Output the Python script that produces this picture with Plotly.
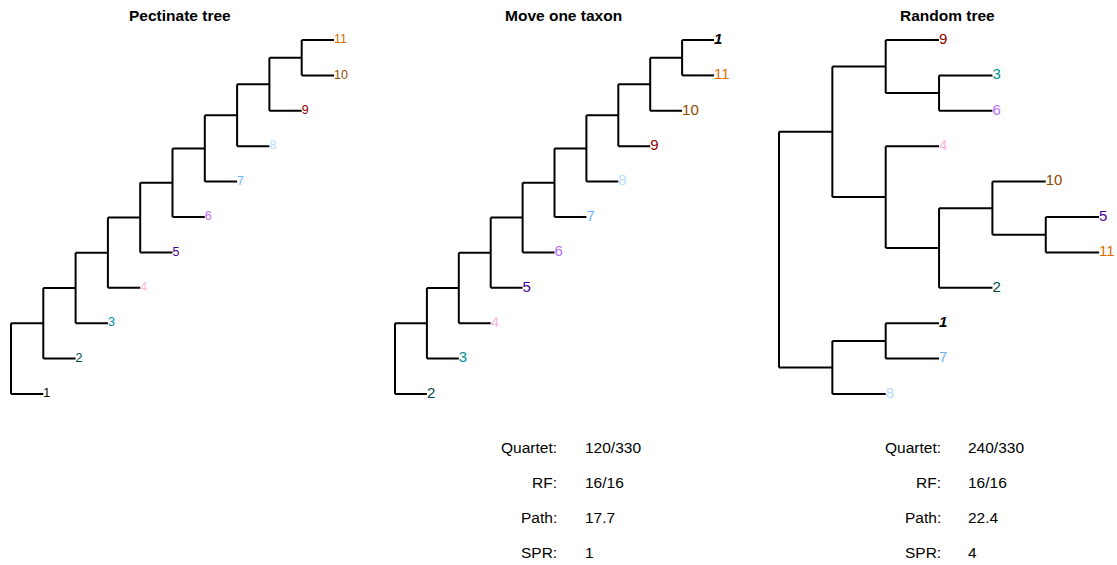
import plotly.graph_objects as go

W, H = 1117, 565
FONT = "Liberation Sans, Arial, sans-serif"

# ---- data -------------------------------------------------------------
titles = ["Pectinate tree", "Move one taxon", "Random tree"]

# trees as nested tuples; children listed bottom-to-top, unit branch lengths
tree_pectinate = (1, (2, (3, (4, (5, (6, (7, (8, (9, (10, 11))))))))))
tree_moved = (2, (3, (4, (5, (6, (7, (8, (9, (10, (11, 1))))))))))
tree_random = ((8, (7, 1)), (((2, ((11, 5), 10)), 4), ((6, 3), 9)))
trees = [tree_pectinate, tree_moved, tree_random]

tip_colors = {1: "#000000", 2: "#004949", 3: "#009292", 4: "#ffb6db",
              5: "#490092", 6: "#b66dff", 7: "#6db6ff", 8: "#b6dbff",
              9: "#920000", 10: "#924900", 11: "#db6d00"}
moved_taxon = 1

stat_names = ["Quartet:", "RF:", "Path:", "SPR:"]
moved_stats = ["120/330", "16/16", "17.7", "1"]
random_stats = ["240/330", "16/16", "22.4", "4"]

# ---- layout params (pixels) -----------------------------------------
panel_px = [(0, 372), (372, 745), (745, 1117)]
root_px = [11, 395, 779]
unit_px = [32.3, 31.9, 53.35]
label_size = [12.5, 15, 15]
title_cx = [180, 563, 948]
tip1_py, tip_step = 394, 35.4


def layout_tree(tree):
    xs, ys, tips = [], [], []
    counter = [0]

    def rec(node, depth):
        if isinstance(node, int):
            counter[0] += 1
            y = counter[0]
            tips.append((node, depth, y))
            return y
        cys = []
        for c in node:
            cy = rec(c, depth + 1)
            xs.extend([depth, depth + 1, None])
            ys.extend([cy, cy, None])
            cys.append(cy)
        xs.extend([depth, depth, None])
        ys.extend([min(cys), max(cys), None])
        return (min(cys) + max(cys)) / 2

    rec(tree, 0)
    return xs, ys, tips


fig = go.Figure()
y_lo = 1 - (H - tip1_py) / tip_step
y_hi = 1 + tip1_py / tip_step

for k, tree in enumerate(trees):
    xs, ys, tips = layout_tree(tree)
    ax = "" if k == 0 else str(k + 1)
    fig.add_trace(go.Scatter(x=xs, y=ys, mode="lines",
                             line=dict(color="black", width=2),
                             xaxis="x" + ax, yaxis="y" + ax,
                             hoverinfo="skip", showlegend=False))
    labels = []
    for t, d, y in tips:
        if k > 0 and t == moved_taxon:
            labels.append("<b><i>%d</i></b>" % t)
        else:
            labels.append(str(t))
    fig.add_trace(go.Scatter(x=[d for _, d, _ in tips], y=[y for _, _, y in tips],
                             mode="text", text=labels, textposition="middle right",
                             textfont=dict(color=[tip_colors[t] for t, _, _ in tips],
                                           size=label_size[k], family=FONT),
                             xaxis="x" + ax, yaxis="y" + ax,
                             hoverinfo="skip", showlegend=False, cliponaxis=False))
    p0, p1 = panel_px[k]
    xr = [(p0 - root_px[k]) / unit_px[k], (p1 - root_px[k]) / unit_px[k]]
    fig.layout["xaxis" + ax] = dict(domain=[p0 / W, p1 / W], range=xr, visible=False,
                                    anchor="y" + ax, fixedrange=True)
    fig.layout["yaxis" + ax] = dict(domain=[0, 1], range=[y_lo, y_hi], visible=False,
                                    anchor="x" + ax, fixedrange=True)

annotations = []
for k, t in enumerate(titles):
    annotations.append(dict(x=title_cx[k] / W, y=1 - 15 / H, xref="paper", yref="paper",
                            text="<b>%s</b>" % t, showarrow=False, xanchor="center",
                            yanchor="middle", font=dict(size=15.5, family=FONT, color="black")))

row_py = [447, 482, 517.5, 552.5]
for stats, lab_right, val_left in [(moved_stats, 559, 583), (random_stats, 943, 966)]:
    for name, val, py in zip(stat_names, stats, row_py):
        annotations.append(dict(x=lab_right / W, y=1 - py / H, xref="paper", yref="paper",
                                text=name, showarrow=False, xanchor="right", yanchor="middle",
                                font=dict(size=15.5, family=FONT, color="black")))
        annotations.append(dict(x=val_left / W, y=1 - py / H, xref="paper", yref="paper",
                                text=val, showarrow=False, xanchor="left", yanchor="middle",
                                font=dict(size=15.5, family=FONT, color="black")))

fig.update_layout(width=W, height=H, margin=dict(l=0, r=0, t=0, b=0),
                  paper_bgcolor="white", plot_bgcolor="white",
                  annotations=annotations, showlegend=False)

fig.write_html("out.html", config={"displayModeBar": False},
               post_script="document.body.style.margin='0';document.body.style.overflow='hidden';")
